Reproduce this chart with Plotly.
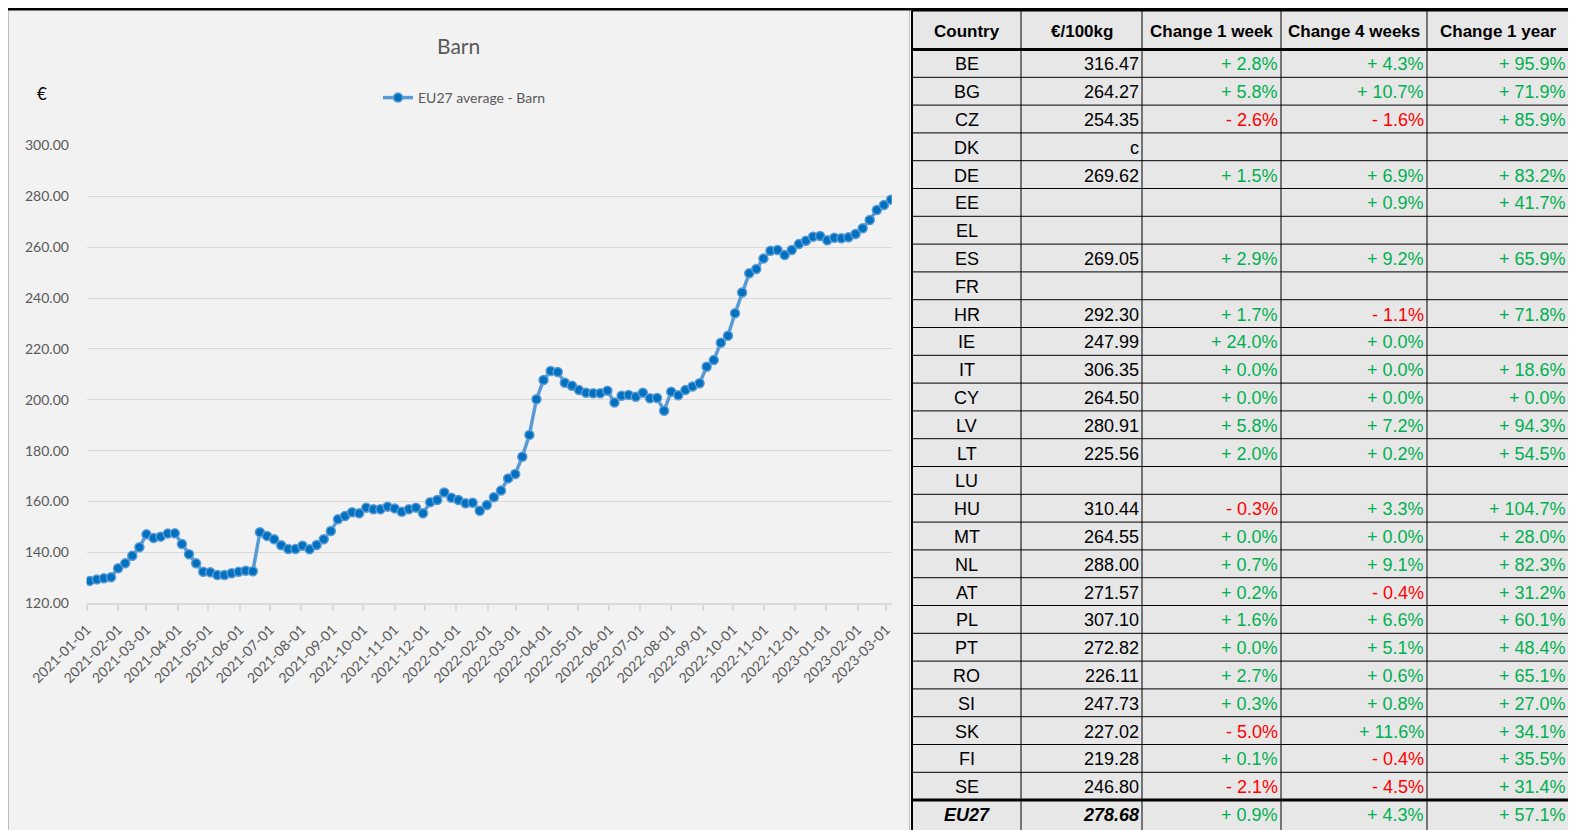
import pandas as pd
import plotly.graph_objects as go

# ---------------- data ----------------
start_date = "2021-01-04"
eu27_barn = [
    128.8, 129.4, 129.8, 130.2, 133.8, 135.7, 138.7, 142.0, 147.1, 145.7,
    146.2, 147.4, 147.5, 143.3, 139.3, 135.7, 132.4, 132.2, 131.1, 131.1,
    131.8, 132.4, 132.8, 132.6, 147.9, 146.5, 145.2, 142.8, 141.3, 141.3,
    142.6, 141.2, 142.9, 145.2, 148.4, 153.0, 154.3, 155.8, 155.4, 157.6,
    157.0, 157.0, 158.0, 157.3, 156.0, 157.0, 157.6, 155.4, 159.7, 160.6,
    163.6, 161.5, 160.6, 159.3, 159.5, 156.4, 158.6, 161.7, 164.3, 169.1,
    170.8, 177.6, 186.2, 200.2, 207.8, 211.3, 210.9, 206.7, 205.5, 203.8,
    202.8, 202.6, 202.6, 203.6, 198.9, 201.6, 201.9, 201.2, 202.8, 200.6,
    200.7, 195.7, 203.2, 201.8, 203.8, 205.2, 206.5, 213.0, 215.6, 222.4,
    225.2, 234.0, 242.2, 249.7, 251.4, 255.5, 258.6, 258.9, 256.9, 258.9,
    261.2, 262.5, 264.1, 264.4, 262.7, 263.7, 263.5, 263.9, 265.2, 267.4,
    270.7, 274.6, 276.6, 278.68,
]
dates = pd.date_range(start_date, periods=len(eu27_barn), freq="7D")

headers = ["Country", "€/100kg", "Change 1 week", "Change 4 weeks", "Change 1 year"]
countries = ["BE", "BG", "CZ", "DK", "DE", "EE", "EL", "ES", "FR", "HR", "IE", "IT", "CY",
             "LV", "LT", "LU", "HU", "MT", "NL", "AT", "PL", "PT", "RO", "SI", "SK", "FI",
             "SE", "EU27"]
prices = ["316.47", "264.27", "254.35", "c", "269.62", "", "", "269.05", "", "292.30",
          "247.99", "306.35", "264.50", "280.91", "225.56", "", "310.44", "264.55",
          "288.00", "271.57", "307.10", "272.82", "226.11", "247.73", "227.02", "219.28",
          "246.80", "278.68"]
change_1w = [2.8, 5.8, -2.6, None, 1.5, None, None, 2.9, None, 1.7, 24.0, 0.0, 0.0,
             5.8, 2.0, None, -0.3, 0.0, 0.7, 0.2, 1.6, 0.0, 2.7, 0.3, -5.0, 0.1, -2.1, 0.9]
change_4w = [4.3, 10.7, -1.6, None, 6.9, 0.9, None, 9.2, None, -1.1, 0.0, 0.0, 0.0,
             7.2, 0.2, None, 3.3, 0.0, 9.1, -0.4, 6.6, 5.1, 0.6, 0.8, 11.6, -0.4, -4.5, 4.3]
change_1y = [95.9, 71.9, 85.9, None, 83.2, 41.7, None, 65.9, None, 71.8, None, 18.6, 0.0,
             94.3, 54.5, None, 104.7, 28.0, 82.3, 31.2, 60.1, 48.4, 65.1, 27.0, 34.1, 35.5,
             31.4, 57.1]

# ---------------- layout helpers ----------------
# The page body has an 8px margin; the figure is sized to fill the rest of the window
OFF = 8
W, H = 1576 - OFF, 830 - OFF
def px(x):
    return (x - OFF) / W
def py(y):
    return 1 - (y - OFF) / H

CHART_FONT = "Lato, 'Open Sans', sans-serif"
TABLE_FONT = "'Liberation Sans Narrow', 'Arial Narrow', 'Liberation Sans', Arial, sans-serif"
CELL_SIZE = 18
HEAD_SIZE = 17
GREY_TXT = "#595959"
GREEN = "#00B050"
RED = "#FF0000"

fig = go.Figure()
fig.add_trace(go.Scatter(
    x=dates, y=eu27_barn, mode="lines+markers", name="EU27 average - Barn",
    line=dict(color="#5B9BD5", width=3.5),
    marker=dict(symbol="circle", size=9, color="#0070C0",
                line=dict(color="#5B9BD5", width=1.5)),
))

shapes = []
annotations = []

# chart area background
shapes.append(dict(type="rect", xref="paper", yref="paper", layer="below",
                   x0=px(8.5), x1=px(909.5), y0=py(832), y1=py(9),
                   fillcolor="#F2F2F2", line=dict(color="#BFBFBF", width=1)))

# title, euro label
annotations.append(dict(xref="paper", yref="paper", x=px(458), y=py(45), text="Barn",
                        showarrow=False, xanchor="center", yanchor="middle",
                        font=dict(family=CHART_FONT, size=21, color=GREY_TXT)))
annotations.append(dict(xref="paper", yref="paper", x=px(42), y=py(94), text="€",
                        showarrow=False, xanchor="center", yanchor="middle",
                        font=dict(family=CHART_FONT, size=17, color="#000000")))

# ---------------- table (shapes + annotations) ----------------
col_edges = [912, 1021, 1142, 1281, 1427, 1576]
header_top, header_bot = 10.5, 49.5
row_h = 27.8
n_rows = len(countries)
row_tops = [header_bot + row_h * i for i in range(n_rows + 1)]

shapes.append(dict(type="rect", xref="paper", yref="paper", layer="below",
                   x0=px(col_edges[0]), x1=px(col_edges[-1]), y0=py(832), y1=py(header_top),
                   fillcolor="#E7E7E7", line=dict(width=0)))
for yy in row_tops[1:-1]:
    shapes.append(dict(type="line", xref="paper", yref="paper",
                       x0=px(col_edges[0]), x1=px(col_edges[-1]), y0=py(yy), y1=py(yy),
                       line=dict(color="#000000", width=1)))
for xx in col_edges[1:-1]:
    shapes.append(dict(type="line", xref="paper", yref="paper",
                       x0=px(xx), x1=px(xx), y0=py(832), y1=py(header_top),
                       line=dict(color="#000000", width=1)))
# thick lines
shapes.append(dict(type="line", xref="paper", yref="paper",
                   x0=px(col_edges[0]), x1=px(col_edges[-1]), y0=py(header_bot), y1=py(header_bot),
                   line=dict(color="#000000", width=3)))
shapes.append(dict(type="line", xref="paper", yref="paper",
                   x0=px(col_edges[0]), x1=px(col_edges[-1]), y0=py(row_tops[-2]), y1=py(row_tops[-2]),
                   line=dict(color="#000000", width=3)))
shapes.append(dict(type="line", xref="paper", yref="paper",
                   x0=px(col_edges[0]), x1=px(col_edges[-1]), y0=py(header_top), y1=py(header_top),
                   line=dict(color="#000000", width=2)))
shapes.append(dict(type="line", xref="paper", yref="paper",
                   x0=px(col_edges[0]), x1=px(col_edges[0]), y0=py(832), y1=py(header_top),
                   line=dict(color="#000000", width=2)))
# top black rule across the page
shapes.append(dict(type="line", xref="paper", yref="paper",
                   x0=0, x1=1, y0=py(9.2), y1=py(9.2),
                   line=dict(color="#000000", width=2.5)))

# header texts
for j, h in enumerate(headers):
    cx = (col_edges[j] + col_edges[j + 1]) / 2
    if j == len(headers) - 1:
        cx = (col_edges[j] + 1570) / 2
    annotations.append(dict(xref="paper", yref="paper", x=px(cx), y=py((header_top + header_bot) / 2 + 1),
                            text="<b>" + h + "</b>", showarrow=False, xanchor="center", yanchor="middle",
                            font=dict(family=TABLE_FONT, size=HEAD_SIZE, color="#000000")))

def fmt_change(v):
    if v is None:
        return "", "#000000"
    if v < 0:
        return "- %.1f%%" % abs(v), RED
    return "+ %.1f%%" % v, GREEN

for i in range(n_rows):
    cy = row_tops[i] + row_h / 2 + 1
    is_total = countries[i] == "EU27"
    wrap = (lambda s: "<b><i>" + s + "</i></b>") if is_total else (lambda s: s)
    cx = (col_edges[0] + col_edges[1]) / 2
    annotations.append(dict(xref="paper", yref="paper", x=px(cx), y=py(cy), text=wrap(countries[i]),
                            showarrow=False, xanchor="center", yanchor="middle",
                            font=dict(family=TABLE_FONT, size=CELL_SIZE, color="#000000")))
    if prices[i]:
        annotations.append(dict(xref="paper", yref="paper", x=px(col_edges[2] - 1), y=py(cy),
                                text=wrap(prices[i]), showarrow=False, xanchor="right", yanchor="middle",
                                font=dict(family=TABLE_FONT, size=CELL_SIZE, color="#000000")))
    for j, series in enumerate([change_1w, change_4w, change_1y]):
        txt, colr = fmt_change(series[i])
        if txt:
            right = col_edges[3 + j] - 1 if j < 2 else 1568
            annotations.append(dict(xref="paper", yref="paper", x=px(right), y=py(cy),
                                    text=txt, showarrow=False, xanchor="right", yanchor="middle",
                                    font=dict(family=TABLE_FONT, size=CELL_SIZE, color=colr)))

fig.update_layout(
    width=W, height=H,
    margin=dict(l=0, r=0, t=0, b=0, pad=0, autoexpand=False),
    paper_bgcolor="#FFFFFF", plot_bgcolor="rgba(0,0,0,0)",
    font=dict(family=CHART_FONT, color=GREY_TXT),
    showlegend=True,
    legend=dict(x=px(378), y=py(82), xanchor="left", yanchor="top", bgcolor="rgba(0,0,0,0)",
                font=dict(family=CHART_FONT, size=14, color=GREY_TXT)),
    xaxis=dict(domain=[px(86.7), px(891.7)], type="date", automargin=False,
               range=["2021-01-01", "2023-03-06 16:00"],
               tick0="2021-01-01", dtick="M1", tickformat="%Y-%m-%d", tickangle=-45,
               ticks="outside", ticklen=6, tickcolor="#D9D9D9", tickwidth=1.5,
               ticklabelstandoff=5,
               showline=True, linecolor="#D9D9D9", linewidth=1.5, showgrid=False, zeroline=False,
               tickfont=dict(family=CHART_FONT, size=14, color=GREY_TXT)),
    yaxis=dict(domain=[py(603.3), py(145.4)], range=[120, 300], dtick=20, tickformat=".2f",
               automargin=False,
               showgrid=True, gridcolor="#D9D9D9", gridwidth=1.3, zeroline=False, showline=False,
               ticks="outside", ticklen=14, tickcolor="rgba(0,0,0,0)",
               tickfont=dict(family=CHART_FONT, size=14, color=GREY_TXT)),
    shapes=shapes,
    annotations=annotations,
)

fig.write_html("out.html")
